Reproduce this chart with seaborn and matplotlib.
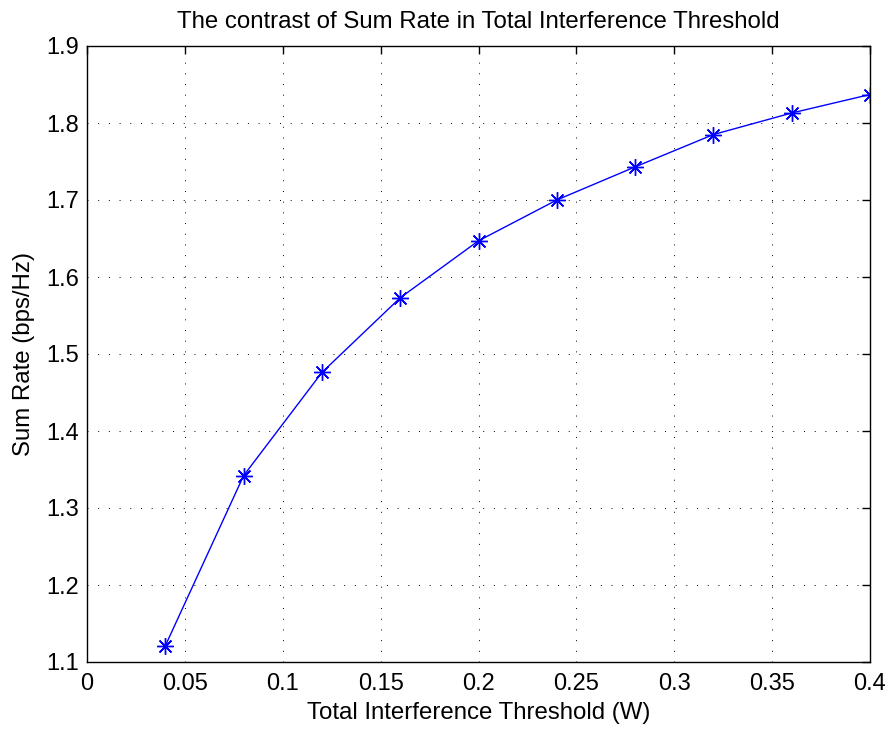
import matplotlib
matplotlib.use("Agg")
import matplotlib.pyplot as plt
import seaborn as sns
import pandas as pd

threshold = [0.04, 0.08, 0.12, 0.16, 0.20, 0.24, 0.28, 0.32, 0.36, 0.40]
sum_rate = [1.121, 1.342, 1.476, 1.573, 1.647, 1.700, 1.743, 1.785, 1.813, 1.837]
x_ticks = [0, 0.05, 0.1, 0.15, 0.2, 0.25, 0.3, 0.35, 0.4]
x_tick_labels = ["0", "0.05", "0.1", "0.15", "0.2", "0.25", "0.3", "0.35", "0.4"]
y_ticks = [1.1, 1.2, 1.3, 1.4, 1.5, 1.6, 1.7, 1.8, 1.9]
y_tick_labels = ["1.1", "1.2", "1.3", "1.4", "1.5", "1.6", "1.7", "1.8", "1.9"]

sns.set_style("white")
plt.rcParams['font.family'] = ['Liberation Sans', 'DejaVu Sans']
plt.rcParams['text.color'] = 'black'
plt.rcParams['axes.labelcolor'] = 'black'
plt.rcParams['xtick.color'] = 'black'
plt.rcParams['ytick.color'] = 'black'

df = pd.DataFrame({"x": threshold, "y": sum_rate})

fig = plt.figure(figsize=(8.89, 7.31), dpi=100)
ax = fig.add_axes([87/889, 1 - 662/731, (870 - 87)/889, (662 - 46)/731])

sns.lineplot(data=df, x="x", y="y", ax=ax, color="blue", linewidth=1.0,
             marker=(8, 2, 0), markersize=12, markeredgecolor="blue",
             markeredgewidth=1.0, markerfacecolor="blue")

ax.set_xlim(0, 0.4)
ax.set_ylim(1.1, 1.9)
ax.set_xticks(x_ticks)
ax.set_xticklabels(x_tick_labels)
ax.set_yticks(y_ticks)
ax.set_yticklabels(y_tick_labels)

ax.grid(True, color="black", linestyle=(0, (1, 10)), linewidth=0.7)
ax.tick_params(direction="in", length=6, width=1, top=True, right=True,
               labelsize=17, colors="black")
ax.tick_params(axis="x", pad=8)
ax.tick_params(axis="y", pad=6)
for s in ax.spines.values():
    s.set_visible(True)
    s.set_color("black")
    s.set_linewidth(1.0)

ax.set_xlabel("Total Interference Threshold (W)", fontsize=17.3, labelpad=5, color="black")
ax.set_ylabel("Sum Rate (bps/Hz)", fontsize=17.3, labelpad=8, color="black")
ax.set_title("The contrast of Sum Rate in Total Interference Threshold", fontsize=17.3,
             pad=13, color="black")

fig.savefig("out.png", dpi=100)
